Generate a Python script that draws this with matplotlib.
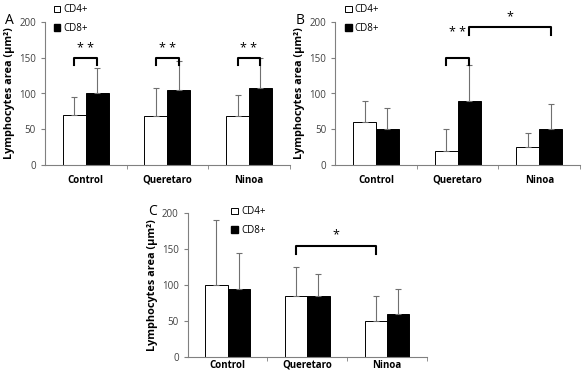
import matplotlib.pyplot as plt
from matplotlib.patches import Patch

# 数据
groups = ['Control', 'Queretaro', 'Ninoa']
a_cd4 = [70, 68, 68]
a_cd4_err = [25, 40, 30]
a_cd8 = [100, 105, 108]
a_cd8_err = [35, 40, 42]

b_cd4 = [60, 20, 25]
b_cd4_err = [30, 30, 20]
b_cd8 = [50, 90, 50]
b_cd8_err = [30, 50, 35]

c_cd4 = [100, 85, 50]
c_cd4_err = [90, 40, 35]
c_cd8 = [95, 85, 60]
c_cd8_err = [50, 30, 35]

w = 0.28
fig = plt.figure(figsize=(5.83, 3.74), dpi=100)
plt.rcParams['font.family'] = ['Open Sans', 'DejaVu Sans']


def panel(rect, cd4, e4, cd8, e8, letter, leg_xy, xpad):
    ax = fig.add_axes(rect)
    x = list(range(len(groups)))
    ekw = dict(ecolor='#707070', elinewidth=0.8, capsize=2, capthick=0.8)
    ax.bar([i - w / 2 for i in x], cd4, w, color='white', edgecolor='black', linewidth=0.7,
           yerr=[[0] * 3, e4], error_kw=ekw)
    ax.bar([i + w / 2 for i in x], cd8, w, color='black', edgecolor='black', linewidth=0.7,
           yerr=[[0] * 3, e8], error_kw=ekw)
    ax.set_xlim(-0.5, 2.5)
    ax.set_ylim(0, 200)
    ax.set_yticks([0, 50, 100, 150, 200])
    ax.set_xticks(x)
    ax.set_xticklabels(groups, fontweight='bold', fontsize=7)
    ax.set_xticks([0.5, 1.5, 2.5], minor=True)
    ax.tick_params(axis='x', which='major', length=0, pad=xpad)
    ax.tick_params(axis='x', which='minor', length=3, color='#808080')
    ax.tick_params(axis='y', labelsize=7, labelcolor='#404040', length=3, color='#808080')
    for s in ['top', 'right']:
        ax.spines[s].set_visible(False)
    for s in ['left', 'bottom']:
        ax.spines[s].set_color('#808080')
        ax.spines[s].set_linewidth(0.8)
    ax.set_ylabel('Lymphocytes area (μm²)', fontweight='bold', fontsize=7.8, labelpad=3)
    fig.text(rect[0] - 0.068, rect[1] + rect[3] - 0.005, letter, fontsize=10)
    handles = [Patch(facecolor='white', edgecolor='black', linewidth=0.7),
               Patch(facecolor='black', edgecolor='black')]
    ax.legend(handles, ['CD4+', 'CD8+'], loc='upper left', bbox_to_anchor=leg_xy,
              bbox_transform=fig.transFigure, frameon=False, fontsize=7,
              handlelength=0.7, handleheight=0.7, handletextpad=0.3, labelspacing=0.75,
              borderaxespad=0, borderpad=0)
    return ax


def bracket(ax, x1, x2, ytop, ybot, star, sy, sx=None):
    ax.plot([x1, x1, x2, x2], [ybot, ytop, ytop, ybot], color='black', lw=1.5, clip_on=False)
    if sx is None:
        sx = (x1 + x2) / 2
    ax.text(sx, sy, star, ha='center', va='center', fontsize=9, clip_on=False)


axA = panel([0.077, 0.559, 0.42, 0.382], a_cd4, a_cd4_err, a_cd8, a_cd8_err, 'A', (0.092, 0.988), 7)
for i in range(3):
    bracket(axA, i - w / 2, i + w / 2, 150, 140, '* *', 163)

axB = panel([0.575, 0.559, 0.42, 0.382], b_cd4, b_cd4_err, b_cd8, b_cd8_err, 'B', (0.592, 0.988), 7)
bracket(axB, 1 - w / 2, 1 + w / 2, 150, 140, '* *', 185, sx=1.0)
bracket(axB, 1 + w / 2, 2 + w / 2, 193, 182, '*', 207)

axC = panel([0.322, 0.045, 0.41, 0.385], c_cd4, c_cd4_err, c_cd8, c_cd8_err, 'C', (0.397, 0.448), 2)
bracket(axC, 1 - w / 2, 2 - w / 2, 155, 143, '*', 170)

plt.savefig('out.png', dpi=100)
